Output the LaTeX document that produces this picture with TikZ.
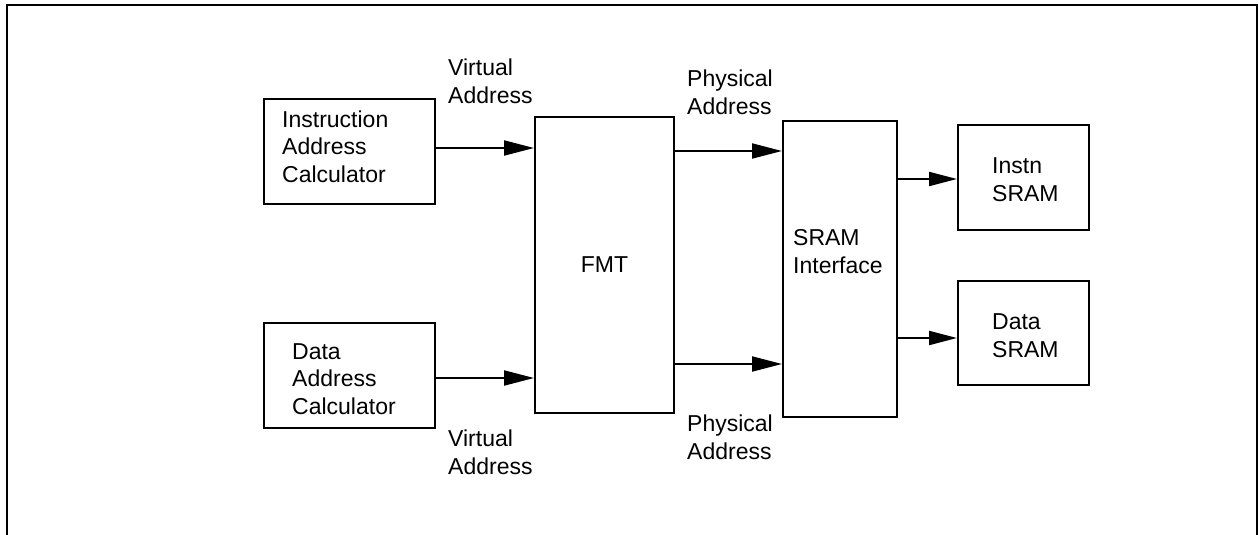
\documentclass[tikz,border=0pt]{standalone}
\usepackage{fontspec}
\setmainfont{Liberation Sans}
\usetikzlibrary{arrows.meta}
\begin{document}
\begin{tikzpicture}[x=1pt,y=-1pt,
  blk/.style={draw,line width=2pt,inner sep=0pt},
  lbl/.style={font=\fontsize{23}{27.5}\selectfont,align=left,inner sep=0pt,anchor=base west},
  arr/.style={line width=2pt,-{Triangle[length=30pt,width=15pt]}},
  sarr/.style={line width=2pt,-{Triangle[length=28pt,width=14pt]}},
]
\useasboundingbox (0,0) rectangle (1259,535);
\draw[line width=2.2pt] (7,535) -- (7,5) -- (1257,5) -- (1257,535);

\node[blk,minimum width=171pt,minimum height=105pt] (iac) at (349.5,151.5) {};
\node[blk,minimum width=171pt,minimum height=105pt] (dac) at (349.5,375.5) {};
\node[blk,minimum width=139pt,minimum height=296pt,font=\fontsize{23}{27}\selectfont] (fmt) at (604.5,265) {FMT};
\node[blk,minimum width=114pt,minimum height=296pt] (sif) at (840,269) {};
\node[blk,minimum width=131pt,minimum height=105pt] (isr) at (1023.5,177.5) {};
\node[blk,minimum width=131pt,minimum height=104pt] (dsr) at (1023.5,333) {};

\node[lbl] (tiac) at (282,182) {Instruction\\Address\\Calculator};
\node[lbl] (tdac) at (292,414) {Data\\Address\\Calculator};
\node[lbl] (tsif) at (793,273) {SRAM\\Interface};
\node[lbl] (tisr) at (992,201) {Instn\\SRAM};
\node[lbl] (tdsr) at (992,357) {Data\\SRAM};

\node[lbl] (va1) at (448,103) {Virtual\\Address};
\node[lbl] (va2) at (448,474) {Virtual\\Address};
\node[lbl] (pa1) at (687,114) {Physical\\Address};
\node[lbl] (pa2) at (687,459) {Physical\\Address};

\draw[arr] (iac.east |- 0,148) -- (fmt.west |- 0,148);
\draw[arr] (dac.east |- 0,378) -- (fmt.west |- 0,378);
\draw[arr] (fmt.east |- 0,151) -- (sif.west |- 0,151);
\draw[arr] (fmt.east |- 0,364) -- (sif.west |- 0,364);
\draw[sarr] (sif.east |- 0,179) -- (isr.west |- 0,179);
\draw[sarr] (sif.east |- 0,338) -- (dsr.west |- 0,338);
\end{tikzpicture}
\end{document}
